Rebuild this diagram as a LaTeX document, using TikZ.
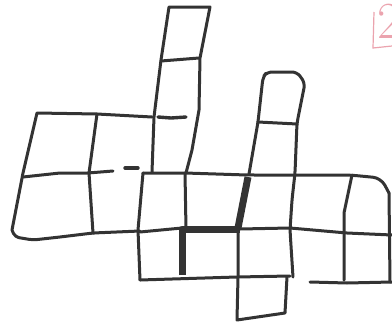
\documentclass[tikz,border=0pt]{standalone}
\usepackage{xcolor}
\usepackage{tikz}
\definecolor{ink}{HTML}{333333}
\definecolor{pink}{HTML}{EBA3AE}
\tikzset{
  penline/.style={draw=ink, line width=3pt, line join=round, line cap=round},
  heavyline/.style={draw=ink, line width=7pt, line join=round, line cap=butt},
  dashmark/.style={draw=ink, line width=3.4pt, line cap=round},
  pinkmark/.style={draw=pink, line width=1.2pt},
}

\begin{document}
\begin{tikzpicture}[x=1pt, y=-1pt]
  \useasboundingbox (0,0) rectangle (392,325);
  % tall column
  \draw[penline] (152,172) -- (154,117) -- (161,60) -- (169,7) -- (210,7) -- (200,58) -- (199,110) -- (192,150) -- (186,173);
  \draw[penline] (161,61) -- (199,58);
  \draw[dashmark] (158,117) -- (171,118) -- (186,117);
  % left block
  \draw[penline] (152,117) -- (97,114) -- (37,113) -- (23,173) -- (12,230) [rounded corners=4pt] -- (15,237) -- (33,240) -- (60,237) -- (93,233) -- (140,231);
  \draw[penline] (97,114) -- (89,173) -- (93,233);
  \draw[penline] (23,177) -- (60,173) -- (88,173) -- (113,171);
  \draw[dashmark] (125,168) -- (138,168);
  % middle rows
  \draw[penline, rounded corners=8pt] (143,173) -- (185,173) -- (247,175) -- (350,175) -- (381,178) -- (389,193);
  \draw[penline] (389,193) -- (390,282);
  \draw[penline] (143,173) -- (138,230) -- (140,280);
  \draw[penline] (140,232) -- (182,228) -- (240,229) -- (290,228) -- (347,233) -- (392,235);
  \draw[penline] (140,280) -- (237,277) -- (290,276);
  \draw[penline] (310,282) -- (347,283) -- (392,282);
  \draw[penline] (185,173) -- (186,229);
  \draw[penline] (352,175) -- (344,213) -- (344,233) -- (344,280);
  % small right column
  \draw[penline, rounded corners=5pt] (249,174) -- (258,122) -- (263,77) -- (267,72) -- (297,72) -- (305,83) -- (297,123) -- (295,173) -- (292,200) -- (290,230) -- (293,277);
  \draw[penline] (258,122) -- (297,124);
  % bottom stub
  \draw[penline] (238,230) -- (238,277) -- (237,320) -- (285,313) -- (287,277);
  % heavy strokes
  \draw[heavyline] (182,275) -- (182,229) -- (240,229);
  \draw[heavyline] (248,177) -- (238,228);
  % pink mark
  \draw[pinkmark] (374,12) -- (373,48) -- (392,46);
  \node[text=pink, font=\fontsize{52}{52}\selectfont, anchor=north west, inner sep=0pt] (two) at (377,4) {2};
\end{tikzpicture}
\end{document}
